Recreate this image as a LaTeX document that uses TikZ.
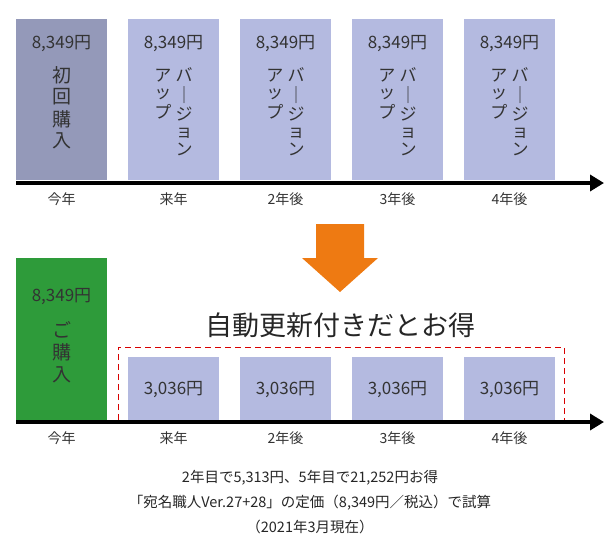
\documentclass[tikz,border=0pt]{standalone}
\usepackage{fontspec}
\setmainfont{Noto Sans CJK JP}
\usetikzlibrary{arrows.meta}
\definecolor{gbox}{HTML}{9499B9}
\definecolor{lbox}{HTML}{B4BAE0}
\definecolor{grn}{HTML}{2E9B3A}
\definecolor{org}{HTML}{EE7A12}
\newcommand{\vt}[1]{\begin{tabular}[t]{@{}c@{}}#1\end{tabular}}
\newcommand{\vup}{\vt{バ\\｜\\ジ\\ョ\\ン}}
\newcommand{\vap}{\vt{ア\\ッ\\プ}}
\begin{document}
\begin{tikzpicture}[x=1pt,y=-1pt,
  price/.style={font=\fontsize{17}{17}\selectfont,text=black!80},
  yr/.style={font=\fontsize{14}{14}\selectfont,text=black!80},
  vtxt/.style={font=\fontsize{17}{17.5}\selectfont,text=black!80,inner sep=0pt},
  vtxt2/.style={font=\fontsize{19}{21.5}\selectfont,text=black!80,inner sep=0pt},
  axis/.style={line width=4.5pt,-{Triangle[length=14pt,width=16pt]}}]
\useasboundingbox (0,0) rectangle (612,551);
% top row
\fill[gbox] (16,19) rectangle (107,180);
\node[price] (p0) at (61.5,44) {8,349円};
\node[vtxt2,anchor=north] (t0) at (61.5,66) {\vt{初\\回\\購\\入}};
\foreach \i/\x in {1/128,2/240,3/352,4/464}{
  \fill[lbox] (\x,19) rectangle ({\x+91},180);
  \node[price] (p\i) at ({\x+45.5},44) {8,349円};
  \node[vtxt,anchor=north] (v\i) at ({\x+45.5},67) {\vap\hspace{0.25em}\vup};
}
\coordinate (a0) at (16,183); \coordinate (a1) at (604,183);
\draw[axis] (a0) -- (a1);
\node[yr] (y0) at (61.5,199) {今年};
\node[yr] (y1) at (173.5,199) {来年};
\node[yr] (y2) at (285.5,199) {2年後};
\node[yr] (y3) at (397.5,199) {3年後};
\node[yr] (y4) at (509.5,199) {4年後};
% orange arrow
\fill[org] (316,224) -- (364,224) -- (364,258) -- (378,258) -- (340,292) -- (302,258) -- (316,258) -- cycle;
% bottom
\fill[grn] (16,258) rectangle (107,420);
\node[price] (q0) at (61.5,297) {8,349円};
\node[vtxt2,anchor=north] (g0) at (61.5,321) {\vt{ご\\購\\入}};
\node[font=\fontsize{27}{27}\selectfont,text=black!85] (title) at (340,325) {自動更新付きだとお得};
\draw[red!85!black,line width=0.9pt,dash pattern=on 6pt off 4pt] (118,420) -- (118,347) -- (564,347) -- (564,420);
\foreach \i/\x in {1/128,2/240,3/352,4/464}{
  \fill[lbox] (\x,357) rectangle ({\x+91},420);
  \node[price] (c\i) at ({\x+45.5},390) {3,036円};
}
\coordinate (b0) at (16,422); \coordinate (b1) at (604,422);
\draw[axis] (b0) -- (b1);
\node[yr] (z0) at (61.5,438) {今年};
\node[yr] (z1) at (173.5,438) {来年};
\node[yr] (z2) at (285.5,438) {2年後};
\node[yr] (z3) at (397.5,438) {3年後};
\node[yr] (z4) at (509.5,438) {4年後};
\node[font=\fontsize{14.5}{25}\selectfont,text=black!85,align=center] (foot) at (310,502)
 {2年目で5,313円、5年目で21,252円お得\\「宛名職人Ver.27+28」の定価（8,349円／税込）で試算\\（2021年3月現在）};
\end{tikzpicture}
\end{document}
